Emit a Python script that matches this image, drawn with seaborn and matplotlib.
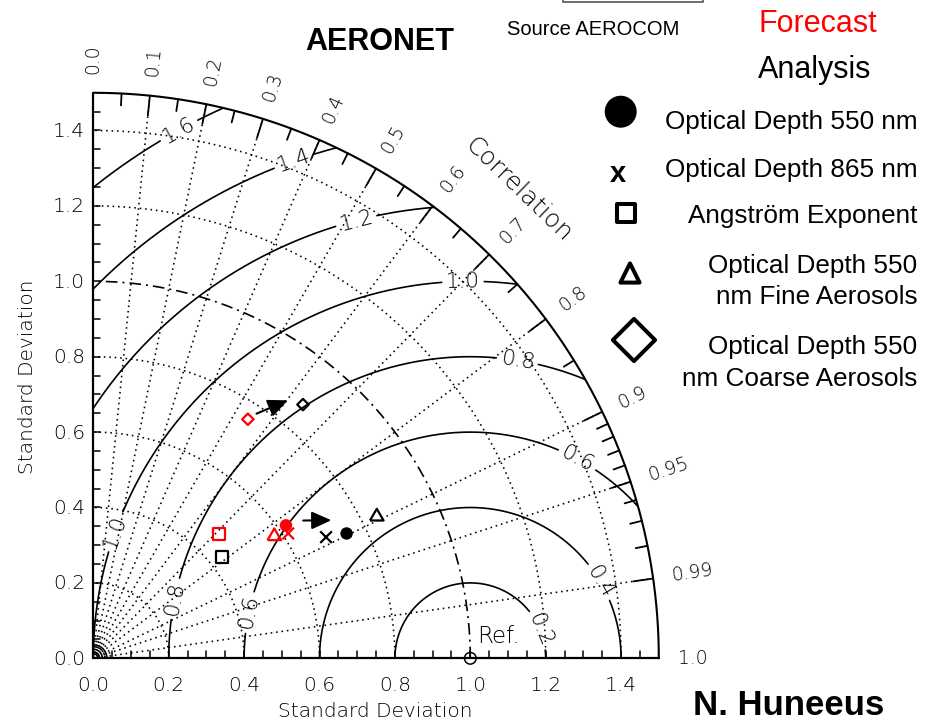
import numpy as np
import pandas as pd
import matplotlib
matplotlib.use("Agg")
import matplotlib.pyplot as plt
import seaborn as sns

# ---------------- data ----------------
sources = ["Forecast", "Analysis"]
variables = ["Optical Depth 550 nm", "Optical Depth 865 nm", "Angström Exponent",
             "Optical Depth 550 nm Fine Aerosols", "Optical Depth 550 nm Coarse Aerosols"]
forecast_std = [0.621, 0.614, 0.470, 0.582, 0.755]
forecast_corr = [0.823, 0.842, 0.711, 0.825, 0.543]
analysis_std = [0.749, 0.696, 0.434, 0.843, 0.873]
analysis_corr = [0.897, 0.887, 0.785, 0.892, 0.637]
ref_std = [1.0]
ref_corr = [1.0]
arrow_std_start = [0.780, 0.666]
arrow_corr_start = [0.555, 0.836]
arrow_std_end = [0.857, 0.730]
arrow_corr_end = [0.602, 0.865]
rmsd_levels = [0.2, 0.4, 0.6, 0.8, 1.0, 1.2, 1.4, 1.6]
std_grid = [0.2, 0.4, 0.6, 0.8, 1.2, 1.4]
corr_grid = [0.1, 0.2, 0.3, 0.4, 0.5, 0.6, 0.7, 0.8, 0.9, 0.95, 0.99]
corr_ticks = [0.0, 0.1, 0.2, 0.3, 0.4, 0.5, 0.6, 0.7, 0.8, 0.9, 0.95, 0.99, 1.0]
corr_tick_labels = ["0.0", "0.1", "0.2", "0.3", "0.4", "0.5", "0.6", "0.7", "0.8",
                    "0.9", "0.95", "0.99", "1.0"]
corr_minor = [0.05, 0.15, 0.25, 0.35, 0.45, 0.55, 0.65, 0.75, 0.85,
              0.91, 0.92, 0.93, 0.94, 0.96, 0.97, 0.98]
std_ticks = [0.0, 0.2, 0.4, 0.6, 0.8, 1.0, 1.2, 1.4]
std_tick_labels = ["0.0", "0.2", "0.4", "0.6", "0.8", "1.0", "1.2", "1.4"]
legend_labels = ["Optical Depth 550 nm", "Optical Depth 865 nm", "Angström Exponent",
                 "Optical Depth 550\nnm Fine Aerosols", "Optical Depth 550\nnm Coarse Aerosols"]
# positions of the contour labels (angle around the reference point, degrees)
rmsd_label_angles = {0.2: [22.4], 0.4: [30.6], 0.6: [61.7, 168.3], 0.8: [81.0, 168.6],
                     1.0: [91.1, 160.4], 1.2: [104.6], 1.4: [109.5], 1.6: [118.9]}

# ---------------- figure ----------------
sns.set_theme(style="white")
plt.rcParams["font.family"] = ["DejaVu Sans"]
W, H = 925, 721
fig = plt.figure(figsize=(W / 100, H / 100), dpi=100)
fig.patch.set_facecolor("white")
OX, OY, S = 93.3, 658.3, 377.0
ax = fig.add_axes([0, 0, 1, 1])
ax.set_xlim(-OX / S, (W - OX) / S)
ax.set_ylim((OY - H) / S, OY / S)
ax.axis("off")


def P(px, py):
    return (px - OX) / S, (OY - py) / S


RMAX = 1.5
HERSHEY = dict(family="DejaVu Sans", fontweight="light", color="black")
ARIAL = "Liberation Sans"
K = "black"

# dotted std arcs
th = np.linspace(0, np.pi / 2, 500)
for s in std_grid:
    ax.plot(s * np.cos(th), s * np.sin(th), color=K, lw=1.15, ls=(0, (1, 2.4)), zorder=1)
# reference std arc (dash-dot)
ax.plot(ref_std[0] * np.cos(th), ref_std[0] * np.sin(th), color=K, lw=1.2,
        ls=(0, (7, 3, 1.2, 3)), zorder=1)
# dotted correlation rays
for c in corr_grid:
    t = np.arccos(c)
    ax.plot([0, RMAX * np.cos(t)], [0, RMAX * np.sin(t)], color=K, lw=1.15,
            ls=(0, (1, 2.4)), zorder=1)
# small arcs at origin
for r in [0.012, 0.024, 0.036]:
    ax.plot(r * np.cos(th), r * np.sin(th), color=K, lw=1.2, zorder=2)

# RMSD contours centred on the reference point
refx = ref_std[0] * ref_corr[0]
phi = np.linspace(0, np.pi, 3000)
for R in rmsd_levels:
    x = refx + R * np.cos(phi)
    y = R * np.sin(phi)
    mask = (x >= 0) & (x ** 2 + y ** 2 <= RMAX ** 2)
    for a in rmsd_label_angles.get(R, []):
        half = 0.056 / R
        mask &= np.abs(phi - np.radians(a)) > half
    ax.plot(np.ma.masked_where(~mask, x), np.ma.masked_where(~mask, y), color=K,
            lw=1.2, zorder=2)
    for a in rmsd_label_angles.get(R, []):
        ar = np.radians(a)
        ax.text(refx + R * np.cos(ar), R * np.sin(ar), f"{R:.1f}", rotation=a - 90,
                rotation_mode="anchor", ha="center", va="center", fontsize=15.5,
                zorder=3, **HERSHEY)

# outer arc and axes
ax.plot(RMAX * np.cos(th), RMAX * np.sin(th), color=K, lw=1.5, zorder=3)
ax.plot([0, 0], [0, RMAX], color=K, lw=1.6, zorder=3)
ax.plot([0, RMAX], [0, 0], color=K, lw=1.6, zorder=3)
TL = 7 / S
for v in np.arange(0.05, RMAX - 1e-6, 0.05):
    ax.plot([v, v], [0, TL], color=K, lw=1.1, zorder=3)
    ax.plot([0, TL], [v, v], color=K, lw=1.1, zorder=3)
for c in corr_ticks[1:-1]:
    t = np.arccos(c)
    ax.plot([RMAX * np.cos(t), (RMAX - 20 / S) * np.cos(t)],
            [RMAX * np.sin(t), (RMAX - 20 / S) * np.sin(t)], color=K, lw=1.3, zorder=3)
for c in corr_minor:
    t = np.arccos(c)
    ax.plot([RMAX * np.cos(t), (RMAX - 12 / S) * np.cos(t)],
            [RMAX * np.sin(t), (RMAX - 12 / S) * np.sin(t)], color=K, lw=1.3, zorder=3)

# tick labels
for v, lab in zip(std_ticks, std_tick_labels):
    ax.text(v, P(0, 690.7)[1], lab, ha="center", va="baseline", fontsize=14.5, **HERSHEY)
    ax.text(P(85, 0)[0], v - 6.5 / S, lab, ha="right", va="baseline", fontsize=14.5,
            **HERSHEY)
for c, lab in zip(corr_ticks, corr_tick_labels):
    t = np.arccos(c)
    ax.text(1.55 * np.cos(t), 1.55 * np.sin(t), lab, rotation=np.degrees(t),
            rotation_mode="anchor", ha="left", va="center", fontsize=13.5, **HERSHEY)

ax.text(*P(375.5, 717), "Standard Deviation", ha="center", va="baseline",
        fontsize=14.5, **HERSHEY)
ax.text(*P(33, 376.5), "Standard Deviation", ha="center", va="baseline", rotation=90,
        rotation_mode="anchor", fontsize=14.5, **HERSHEY)
ax.text(*P(519, 190), "Correlation", ha="center", va="center", rotation=-44,
        rotation_mode="anchor", fontsize=18, **HERSHEY)

# reference point
rdf = pd.DataFrame({"x": [ref_std[0] * ref_corr[0]],
                    "y": [ref_std[0] * np.sqrt(1 - ref_corr[0] ** 2)]})
sns.scatterplot(data=rdf, x="x", y="y", marker="o", s=70, ax=ax, legend=False, zorder=6)
rc = ax.collections[-1]
rc.set_facecolors("none"); rc.set_edgecolors(K); rc.set_linewidths(1.1)
ax.text(*P(498.7, 636.7), "Ref.", ha="center", va="center", fontsize=16.5, **HERSHEY)

# model points
df = pd.DataFrame({
    "source": [sources[0]] * 5 + [sources[1]] * 5,
    "variable": variables * 2,
    "std": forecast_std + analysis_std,
    "corr": forecast_corr + analysis_corr,
})
df["x"] = df["std"] * df["corr"]
df["y"] = df["std"] * np.sqrt(1 - df["corr"] ** 2)
palette = {"Forecast": "#ff0000", "Analysis": "#000000"}
TRI = np.array([(-1.0, -0.866), (1.0, -0.866), (0.0, 0.866), (-1.0, -0.866)])
styles = {
    variables[0]: dict(marker="o", s=80, filled=True, lw=0.0),
    variables[1]: dict(marker="x", s=70, filled=False, lw=1.6),
    variables[2]: dict(marker="s", s=72, filled=False, lw=1.6),
    variables[3]: dict(marker=TRI, s=95, filled=False, lw=1.6),
    variables[4]: dict(marker="D", s=34, filled=False, lw=1.6),
}
for v in variables:
    st = styles[v]
    sub = df[df["variable"] == v]
    sns.scatterplot(data=sub, x="x", y="y", hue="source", palette=palette,
                    marker=st["marker"], s=st["s"], legend=False, ax=ax, zorder=7)
    coll = ax.collections[-1]
    cols = [palette[s] for s in sub["source"]]
    if st["filled"]:
        coll.set_facecolors(cols); coll.set_edgecolors("none")
    else:
        coll.set_edgecolors(cols); coll.set_facecolors("none")
        coll.set_linewidths(st["lw"])

# arrows (forecast -> analysis shift)
for s0, c0, s1, c1 in zip(arrow_std_start, arrow_corr_start, arrow_std_end, arrow_corr_end):
    ax.annotate("", xy=(s1 * c1, s1 * np.sqrt(1 - c1 ** 2)),
                xytext=(s0 * c0, s0 * np.sqrt(1 - c0 ** 2)),
                arrowprops=dict(arrowstyle="-|>,head_length=1.0,head_width=0.45",
                                color=K, lw=1.5, mutation_scale=12, shrinkA=0, shrinkB=0),
                zorder=6)

# titles
ax.text(*P(380, 50), "AERONET", ha="center", va="baseline", fontsize=22,
        fontweight="bold", family=ARIAL, color=K)
ax.text(*P(592.8, 35), "Source AEROCOM", ha="center", va="baseline", fontsize=14.5,
        family=ARIAL, color=K)
bx = [P(563, -5), P(563, 2), P(703, 2), P(703, -5)]
ax.plot([p[0] for p in bx], [p[1] for p in bx], color="#555555", lw=1.2)
ax.text(*P(817.5, 31.7), "Forecast", ha="center", va="baseline", fontsize=22,
        family=ARIAL, color="#ff0000")
ax.text(*P(815, 78.3), "Analysis", ha="center", va="baseline", fontsize=22,
        family=ARIAL, color=K)
ax.text(*P(789, 715), "N. Huneeus", ha="center", va="baseline", fontsize=25,
        fontweight="bold", family=ARIAL, color=K)

# custom legend
baselines = [[129.3], [176.7], [222.7], [272.7, 304.0], [354.0, 385.7]]
for lab, bl in zip(legend_labels, baselines):
    for line, b in zip(lab.split("\n"), bl):
        ax.text(*P(917.3, b), line, ha="right", va="baseline", fontsize=18.8,
                family=ARIAL, color=K)
ax.scatter(*P(620.7, 111.7), marker="o", s=530, facecolor=K, edgecolor="none", zorder=8)
ax.text(*P(618.3, 181.7), "x", ha="center", va="baseline", fontsize=21,
        fontweight="bold", family=ARIAL, color=K)
ax.scatter(*P(626, 213.3), marker="s", s=170, facecolor="none", edgecolor=K,
           linewidths=2.9, zorder=8)
ax.scatter(*P(630, 273), marker="^", s=190, facecolor="none", edgecolor=K,
           linewidths=2.9, zorder=8)
ax.scatter(*P(634, 340), marker="D", s=460, facecolor="none", edgecolor=K,
           linewidths=2.9, zorder=8)

fig.savefig("out.png", dpi=100, facecolor="white")
